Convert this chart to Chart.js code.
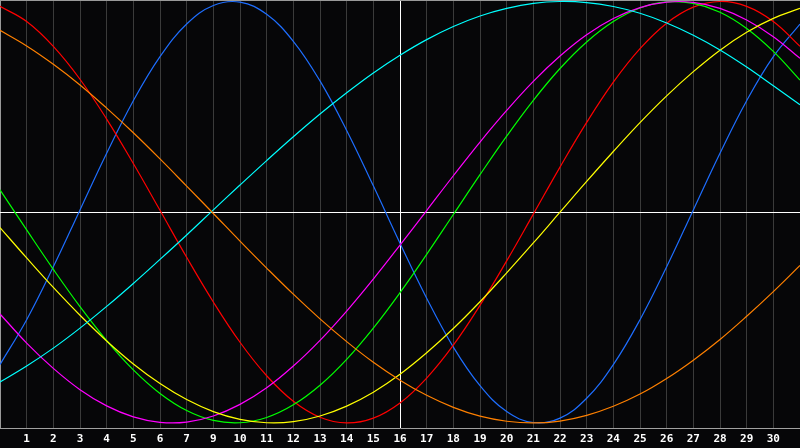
<!DOCTYPE html>
<html>
<head>
<meta charset="utf-8">
<script src="https://cdn.jsdelivr.net/npm/chart.js@4.4.1/dist/chart.umd.min.js"></script>
<style>
  html, body { margin: 0; padding: 0; background: #060608; }
  canvas { display: block; }
</style>
</head>
<body>
<canvas id="bioChart" width="800" height="448"></canvas>
<script>
// jours du mois (position sur l'axe des x)
var days = [0,1,2,3,4,5,6,7,8,9,10,11,12,13,14,15,16,17,18,19,20,21,22,23,24,25,26,27,28,29,30];
// libellés affichés sous les traits (le 8 manque sur l'original)
var tickLabels = ['', '1','2','3','4','5','6','7','9','10','11','12','13','14','15','16',
  '17','18','19','20','21','22','23','24','25','26','27','28','29','30', ''];
var todayIndex = 15;

// valeurs, de -1 à 1
var redVals = [0.977,0.905,0.787,0.631,0.442,0.231,0.009,-0.214,-0.426,-0.617,-0.776,-0.897,-0.973,-1.0,-0.977,
  -0.905,-0.787,-0.631,-0.442,-0.231,-0.009,0.214,0.426,0.617,0.776,0.897,0.973,1.0,0.977,0.905,0.787];
var blueVals = [-0.723,-0.510,-0.259,0.011,0.280,0.529,0.738,0.893,0.981,0.997,0.939,0.811,0.623,0.388,0.125,
  -0.147,-0.408,-0.640,-0.823,-0.946,-0.998,-0.977,-0.883,-0.723,-0.510,-0.259,0.011,0.280,0.529,0.738,0.893];
var greenVals = [0.106,-0.084,-0.271,-0.448,-0.609,-0.748,-0.860,-0.941,-0.988,-0.999,-0.974,-0.914,-0.821,-0.698,-0.550,
  -0.382,-0.200,-0.011,0.178,0.361,0.531,0.682,0.808,0.905,0.969,0.998,0.991,0.949,0.872,0.763,0.627];
var magentaVals = [-0.483,-0.621,-0.741,-0.842,-0.919,-0.971,-0.997,-0.996,-0.967,-0.912,-0.833,-0.730,-0.608,-0.469,-0.317,
  -0.156,0.008,0.173,0.333,0.483,0.621,0.741,0.842,0.919,0.971,0.997,0.996,0.967,0.912,0.833,0.730];
var yellowVals = [-0.073,-0.217,-0.357,-0.489,-0.611,-0.720,-0.813,-0.889,-0.946,-0.983,-0.999,-0.994,-0.967,-0.920,-0.854,
  -0.769,-0.667,-0.552,-0.425,-0.288,-0.146,0.0,0.146,0.288,0.425,0.552,0.667,0.769,0.854,0.920,0.967];
var orangeVals = [0.863,0.789,0.702,0.604,0.494,0.377,0.253,0.124,-0.006,-0.137,-0.265,-0.389,-0.506,-0.614,-0.712,
  -0.797,-0.869,-0.926,-0.968,-0.992,-1.0,-0.991,-0.964,-0.921,-0.863,-0.789,-0.702,-0.604,-0.494,-0.377,-0.253];
var cyanVals = [-0.806,-0.730,-0.645,-0.550,-0.447,-0.338,-0.224,-0.108,0.011,0.129,0.245,0.358,0.466,0.567,0.661,
  0.745,0.819,0.881,0.931,0.967,0.991,1.0,0.995,0.976,0.944,0.898,0.840,0.770,0.689,0.600,0.510];

var yMin = -1.024;
var yMax = 1.007;

function serie(vals, couleur) {
  return {
    data: days.map((d, i) => ({ x: d, y: vals[i] })),
    borderColor: couleur,
    borderWidth: 1.2,
    pointRadius: 0,
    pointHoverRadius: 0,
    fill: false,
    tension: 0.4
  };
}

const ctx = document.getElementById("bioChart");
const bioChart = new Chart(ctx, {
  type: "line",
  data: {
    datasets: [
      serie(orangeVals, "#ff8000"),
      serie(cyanVals, "#00ffff"),
      serie(yellowVals, "#ffff00"),
      serie(magentaVals, "#ff00ff"),
      serie(greenVals, "#00ff00"),
      serie(redVals, "#ff0000"),
      serie(blueVals, "#1e6eff")
    ]
  },
  options: {
    responsive: false,
    animation: false,
    layout: { padding: 0, autoPadding: false },
    plugins: { legend: { display: false }, tooltip: { enabled: false } },
    scales: {
      x: {
        type: "linear",
        min: 0,
        max: 30,
        afterFit: (s) => { s.height = 20; s.paddingLeft = 0; s.paddingRight = 0; },
        ticks: {
          stepSize: 1,
          autoSkip: false,
          maxRotation: 0,
          padding: 5,
          color: "#ffffff",
          font: { family: "DejaVu Sans Mono", size: 11, weight: "bold" },
          callback: (v) => tickLabels[v]
        },
        grid: {
          drawTicks: false,
          lineWidth: 1,
          color: (c) => {
            if (c.tick.value === 0) return "#999999";
            if (c.tick.value === todayIndex) return "#ffffff";
            if (c.tick.value === 30) return "rgba(0,0,0,0)";
            return "#3a3a3a";
          }
        },
        border: { display: true, color: "#a0a0a0", width: 1 }
      },
      y: {
        min: yMin,
        max: yMax,
        afterFit: (s) => { s.width = 0; },
        afterBuildTicks: (s) => { s.ticks = [{ value: yMin }, { value: 0 }, { value: yMax }]; },
        ticks: { display: false },
        grid: {
          drawTicks: false,
          lineWidth: 1,
          color: (c) => {
            if (c.tick.value === 0) return "#ffffff";
            if (c.tick.value === yMax) return "#999999";
            return "rgba(0,0,0,0)";
          }
        },
        border: { display: false }
      }
    }
  }
});
</script>
</body>
</html>
